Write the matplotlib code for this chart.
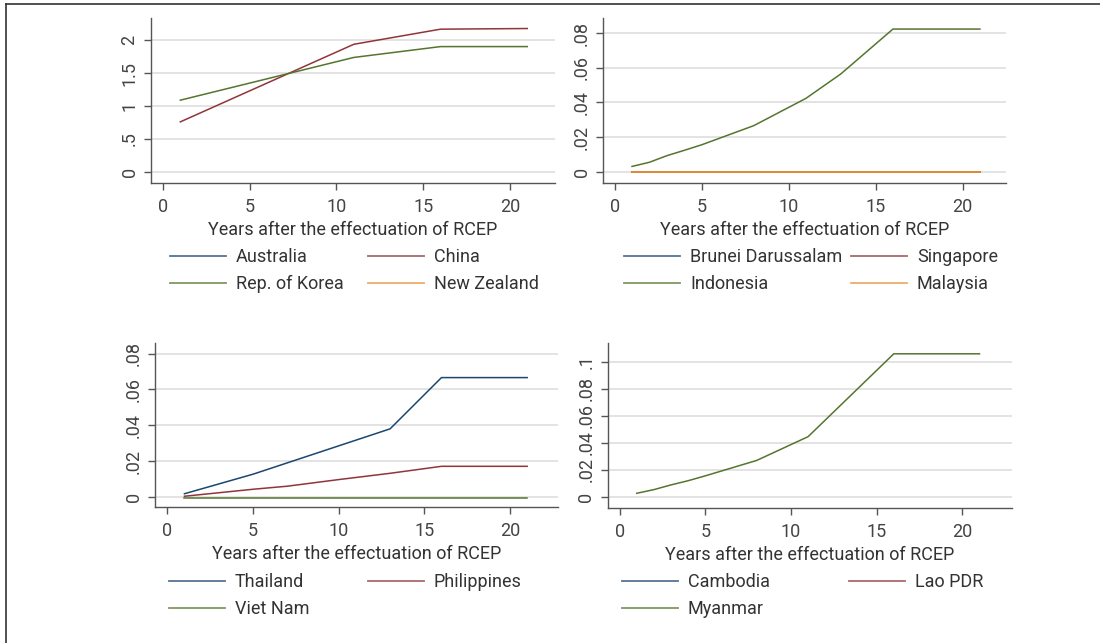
import matplotlib
matplotlib.use("Agg")
import matplotlib.pyplot as plt
from matplotlib.legend import Legend
from matplotlib.lines import Line2D

plt.rcParams['font.family'] = ['Roboto', 'DejaVu Sans']

# ---- data ----
xticks = [0, 5, 10, 15, 20]
xlabel = "Years after the effectuation of RCEP"

# top-left panel
australia_yr, australia = [], []
china_yr = [1, 11, 16, 21]
china = [0.76, 1.94, 2.17, 2.18]
korea_yr = [1, 11, 16, 21]
korea = [1.09, 1.74, 1.905, 1.905]
nz_yr, nz = [], []
tl_yticks = [0, 0.5, 1, 1.5, 2]
tl_ylabels = ["0", ".5", "1", "1.5", "2"]

# top-right panel
brunei_yr, brunei = [1, 21], [0, 0]
singapore_yr, singapore = [1, 21], [0, 0]
indonesia_yr = [1, 2, 3, 4, 5, 8, 11, 13, 16, 21]
indonesia = [0.003, 0.0054, 0.0092, 0.0123, 0.0155, 0.0266, 0.0424, 0.0565, 0.0825, 0.0825]
malaysia_yr, malaysia = [1, 21], [0, 0]
tr_yticks = [0, 0.02, 0.04, 0.06, 0.08]
tr_ylabels = ["0", ".02", ".04", ".06", ".08"]

# bottom-left panel
thailand_yr = [1, 5, 13, 16, 21]
thailand = [0.0018, 0.0127, 0.038, 0.0666, 0.0666]
philippines_yr = [1, 5, 7, 10, 13, 16, 21]
philippines = [0.0004, 0.0043, 0.006, 0.0097, 0.0132, 0.0171, 0.0171]
vietnam_yr, vietnam = [1, 21], [-0.0003, -0.0003]
bl_yticks = [0, 0.02, 0.04, 0.06, 0.08]
bl_ylabels = ["0", ".02", ".04", ".06", ".08"]

# bottom-right panel
cambodia_yr, cambodia = [], []
lao_yr, lao = [], []
myanmar_yr = [1, 2, 3, 4, 5, 8, 11, 16, 21]
myanmar = [0.0027, 0.0054, 0.0089, 0.012, 0.0156, 0.027, 0.0446, 0.1059, 0.1059]
br_yticks = [0, 0.02, 0.04, 0.06, 0.08, 0.1]
br_ylabels = ["0", ".02", ".04", ".06", ".08", ".1"]

NAVY = "#1a476f"
MAROON = "#90353b"
GREEN = "#55752f"
ORANGE = "#e8913a"
FS = 13

W, H = 1100, 643
fig = plt.figure(figsize=(W / 100, H / 100), dpi=100)


def px_axes(left, top, right, bottom):
    return fig.add_axes([left / W, 1 - bottom / H, (right - left) / W, (bottom - top) / H])


def style_axes(ax, xlim, ylim, yticks, ylabels):
    ax.set_xlim(*xlim)
    ax.set_ylim(*ylim)
    ax.set_xticks(xticks)
    ax.set_yticks(yticks)
    ax.set_yticklabels(ylabels, rotation=90, va='center')
    for s in ('top', 'right'):
        ax.spines[s].set_visible(False)
    for s in ('left', 'bottom'):
        ax.spines[s].set_color('#555555')
        ax.spines[s].set_linewidth(1.0)
    ax.tick_params(length=5, width=1, color='#555555', labelcolor='#444444', labelsize=FS)
    ax.tick_params(axis='x', pad=6)
    ax.tick_params(axis='y', pad=4)
    ax.grid(axis='y', color='#dedede', linewidth=1.2)
    ax.set_axisbelow(True)
    ax.set_xlabel(xlabel, fontsize=FS, color='#333333', labelpad=3.5)


def px_legend(ax, handles, labels, x, y):
    leg = Legend(ax, handles, labels, loc='upper left',
                 bbox_to_anchor=(x / W, 1 - y / H), bbox_transform=fig.transFigure,
                 frameon=False, fontsize=FS, handlelength=3.1, handletextpad=0.55,
                 borderpad=0, borderaxespad=0, labelspacing=0.52, labelcolor='#333333')
    ax.add_artist(leg)


def leg_line(color):
    return Line2D([], [], color=color, lw=1.3, alpha=0.75)


# top-left
ax1 = px_axes(151, 18, 555, 183)
ax1.plot(australia_yr, australia, color=NAVY, lw=1.1)
ax1.plot(china_yr, china, color=MAROON, lw=1.1)
ax1.plot(korea_yr, korea, color=GREEN, lw=1.1)
ax1.plot(nz_yr, nz, color=ORANGE, lw=1.1)
style_axes(ax1, (-0.69, 22.6), (-0.17, 2.34), tl_yticks, tl_ylabels)
px_legend(ax1, [leg_line(NAVY), leg_line(GREEN)], ["Australia", "Rep. of Korea"], 170, 248)
px_legend(ax1, [leg_line(MAROON), leg_line(ORANGE)], ["China", "New Zealand"], 368, 248)

# top-right
ax2 = px_axes(603, 18, 1006, 183)
ax2.plot(brunei_yr, brunei, color=NAVY, lw=1.1)
ax2.plot(singapore_yr, singapore, color=MAROON, lw=1.1)
ax2.plot(indonesia_yr, indonesia, color=GREEN, lw=1.1)
ax2.plot(malaysia_yr, malaysia, color=ORANGE, lw=1.3)
style_axes(ax2, (-0.67, 22.5), (-0.0066, 0.0889), tr_yticks, tr_ylabels)
px_legend(ax2, [leg_line(NAVY), leg_line(GREEN)], ["Brunei Darussalam", "Indonesia"], 624, 248)
px_legend(ax2, [leg_line(MAROON), leg_line(ORANGE)], ["Singapore", "Malaysia"], 851, 248)

# bottom-left
ax3 = px_axes(155, 343, 558, 507)
ax3.plot(thailand_yr, thailand, color=NAVY, lw=1.1)
ax3.plot(philippines_yr, philippines, color=MAROON, lw=1.1)
ax3.plot(vietnam_yr, vietnam, color=GREEN, lw=1.1)
style_axes(ax3, (-0.72, 22.8), (-0.0056, 0.0859), bl_yticks, bl_ylabels)
px_legend(ax3, [leg_line(NAVY), leg_line(GREEN)], ["Thailand", "Viet Nam"], 169, 573)
px_legend(ax3, [leg_line(MAROON)], ["Philippines"], 368, 573)

# bottom-right
ax4 = px_axes(608, 343, 1012, 508)
ax4.plot(cambodia_yr, cambodia, color=NAVY, lw=1.1)
ax4.plot(lao_yr, lao, color=MAROON, lw=1.1)
ax4.plot(myanmar_yr, myanmar, color=GREEN, lw=1.1)
style_axes(ax4, (-0.68, 22.9), (-0.0082, 0.1139), br_yticks, br_ylabels)
px_legend(ax4, [leg_line(NAVY), leg_line(GREEN)], ["Cambodia", "Myanmar"], 622, 573)
px_legend(ax4, [leg_line(MAROON)], ["Lao PDR"], 849, 573)

# outer frame (left and top edges visible in the crop)
fig.add_artist(Line2D([6 / W, 6 / W], [0, 1 - 4 / H], transform=fig.transFigure, color='#333333', lw=1.2))
fig.add_artist(Line2D([6 / W, 1], [1 - 4 / H, 1 - 4 / H], transform=fig.transFigure, color='#333333', lw=1.2))

fig.savefig("out.png", dpi=100)
